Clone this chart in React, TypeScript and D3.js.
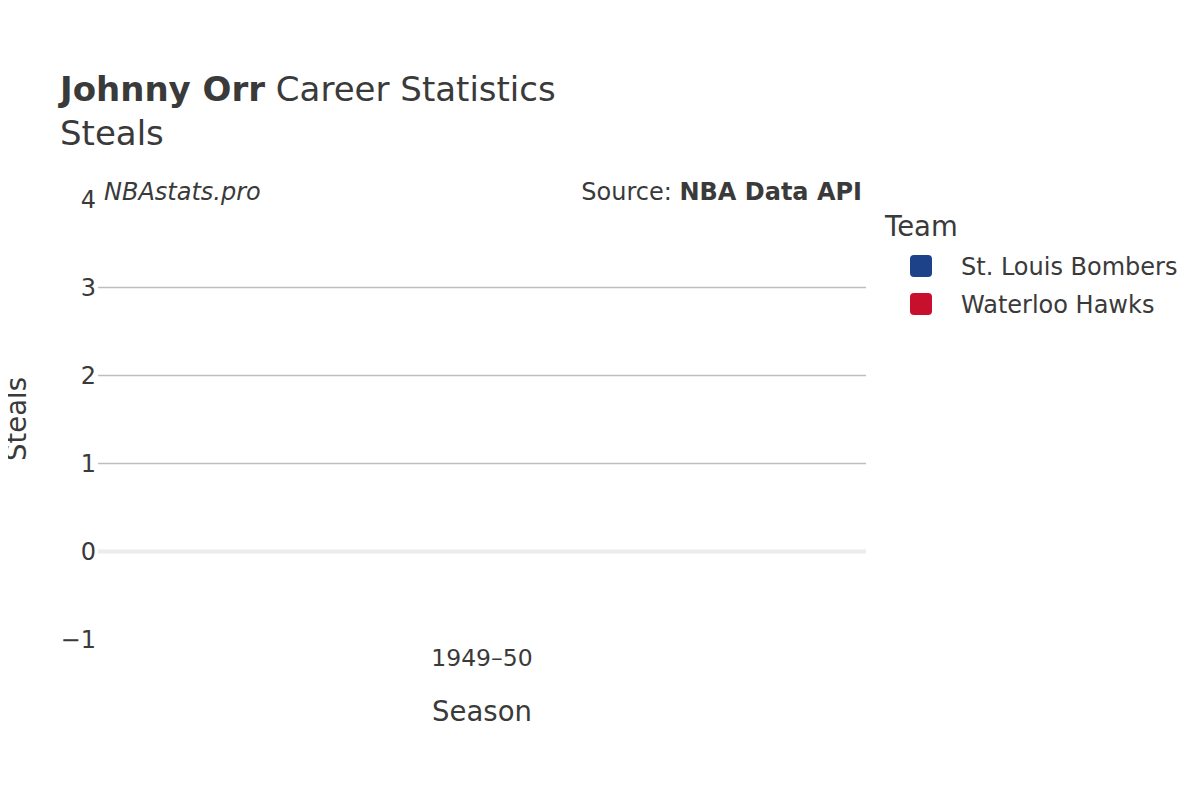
import { useEffect, useRef } from "react";
import * as d3 from "d3";

const seasons = ["1949–50"];
const teams = ["St. Louis Bombers", "Waterloo Hawks"];
const teamColors = ["#1d428a", "#c8102e"];
// no steals recorded for this season
const bombersSteals: (number | null)[] = [null];
const hawksSteals: (number | null)[] = [null];
const yTicks = [-1, 0, 1, 2, 3, 4];

const App = () => {
  const svgRef = useRef<SVGSVGElement>(null);

  useEffect(() => {
    const svg = d3.select(svgRef.current);
    const width = 1200;
    const height = 800;
    const margin = { top: 199, right: 334, bottom: 161, left: 98 };
    const font = "'DejaVu Sans', sans-serif";
    const textColor = "#3a3a3a";

    svg.selectAll("*").remove();

    const x = d3
      .scaleBand()
      .domain(seasons)
      .range([margin.left, width - margin.right]);

    const y = d3
      .scaleLinear()
      .domain([-1, 4])
      .range([height - margin.bottom, margin.top]);

    // Gridlines
    svg
      .append("g")
      .selectAll("line")
      .data(yTicks.filter((d) => d > 0 && d < 4))
      .enter()
      .append("line")
      .attr("x1", margin.left)
      .attr("x2", width - margin.right)
      .attr("y1", (d) => y(d) + 0.5)
      .attr("y2", (d) => y(d) + 0.5)
      .attr("stroke", "#bebebe")
      .attr("stroke-width", 1.5);

    // Zero line
    svg
      .append("line")
      .attr("x1", margin.left)
      .attr("x2", width - margin.right)
      .attr("y1", y(0) + 0.5)
      .attr("y2", y(0) + 0.5)
      .attr("stroke", "#ececec")
      .attr("stroke-width", 4);

    // Y tick labels
    svg
      .append("g")
      .selectAll("text")
      .data(yTicks)
      .enter()
      .append("text")
      .attr("x", margin.left - 2)
      .attr("y", (d) => y(d) + 1)
      .attr("dy", "0.35em")
      .attr("text-anchor", "end")
      .attr("font-family", font)
      .attr("font-size", 24)
      .attr("fill", textColor)
      .text((d) => (d < 0 ? `−${Math.abs(d)}` : `${d}`));

    // X tick labels
    svg
      .append("g")
      .selectAll("text")
      .data(seasons)
      .enter()
      .append("text")
      .attr("x", (d) => x(d)! + x.bandwidth() / 2)
      .attr("y", 666)
      .attr("text-anchor", "middle")
      .attr("font-family", font)
      .attr("font-size", 23.5)
      .attr("fill", textColor)
      .text((d) => d);

    // Bars (empty data)
    const series = [bombersSteals, hawksSteals];
    const xInner = d3
      .scaleBand()
      .domain(teams)
      .range([0, x.bandwidth()])
      .padding(0.1);
    series.forEach((vals, si) => {
      svg
        .append("g")
        .selectAll("rect")
        .data(vals.map((v, i) => ({ v, s: seasons[i] })).filter((d) => d.v != null))
        .enter()
        .append("rect")
        .attr("x", (d) => x(d.s)! + xInner(teams[si])!)
        .attr("width", xInner.bandwidth())
        .attr("y", (d) => y(Math.max(0, d.v as number)))
        .attr("height", (d) => Math.abs(y(0) - y(d.v as number)))
        .attr("fill", teamColors[si]);
    });

    // Axis titles
    svg
      .append("text")
      .attr("x", (margin.left + width - margin.right) / 2)
      .attr("y", 721)
      .attr("text-anchor", "middle")
      .attr("font-family", font)
      .attr("font-size", 27.5)
      .attr("fill", textColor)
      .text("Season");

    svg
      .append("text")
      .attr("transform", `translate(26,${y(1.5)}) rotate(-90)`)
      .attr("text-anchor", "middle")
      .attr("font-family", font)
      .attr("font-size", 27.5)
      .attr("fill", textColor)
      .text("Steals");

    // Title
    const title = svg
      .append("text")
      .attr("x", 60)
      .attr("y", 101)
      .attr("font-family", font)
      .attr("font-size", 34)
      .attr("fill", textColor);
    title.append("tspan").attr("font-weight", "bold").text("Johnny Orr");
    title.append("tspan").text(" Career Statistics");

    svg
      .append("text")
      .attr("x", 60)
      .attr("y", 145)
      .attr("font-family", font)
      .attr("font-size", 34)
      .attr("fill", textColor)
      .text("Steals");

    // Watermark and source
    svg
      .append("text")
      .attr("x", 104)
      .attr("y", 200)
      .attr("font-family", font)
      .attr("font-size", 24)
      .attr("font-style", "italic")
      .attr("fill", textColor)
      .text("NBAstats.pro");

    const source = svg
      .append("text")
      .attr("x", 862)
      .attr("y", 200)
      .attr("text-anchor", "end")
      .attr("font-family", font)
      .attr("font-size", 24)
      .attr("fill", textColor);
    source.append("tspan").text("Source: ");
    source.append("tspan").attr("font-weight", "bold").text("NBA Data API");

    // Legend
    const legend = svg.append("g").attr("transform", "translate(885,0)");
    legend
      .append("text")
      .attr("x", 0)
      .attr("y", 236)
      .attr("font-family", font)
      .attr("font-size", 27.5)
      .attr("fill", textColor)
      .text("Team");

    const items = legend
      .selectAll("g.item")
      .data(teams)
      .enter()
      .append("g")
      .attr("class", "item")
      .attr("transform", (_, i) => `translate(0,${266 + i * 38})`);
    items
      .append("rect")
      .attr("x", 25)
      .attr("y", -11)
      .attr("width", 22)
      .attr("height", 22)
      .attr("rx", 4)
      .attr("fill", (_, i) => teamColors[i]);
    items
      .append("text")
      .attr("x", 76)
      .attr("y", 1)
      .attr("dy", "0.35em")
      .attr("font-family", font)
      .attr("font-size", 24)
      .attr("fill", textColor)
      .text((d) => d);
  }, []);

  return <svg ref={svgRef} width={1200} height={800} style={{ display: "block", margin: -8 }}></svg>;
};

export default App;
